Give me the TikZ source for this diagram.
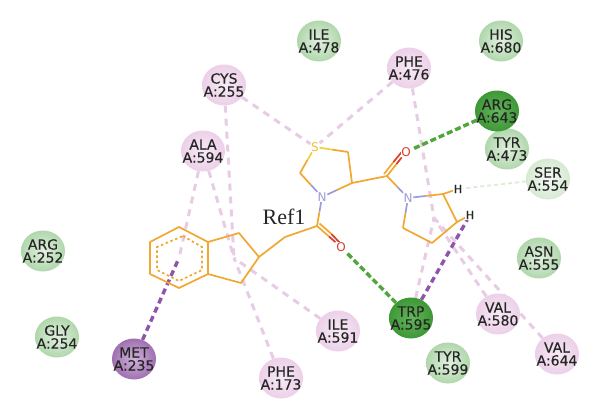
\documentclass[tikz,border=0pt]{standalone}
\usepackage{fontspec}
\setmainfont{DejaVu Sans}
\newfontfamily\lblfont[FakeBold=0.25]{DejaVu Sans}
\newfontfamily\reffont{Liberation Serif}
\usetikzlibrary{shapes.geometric,calc,backgrounds}
\definecolor{bondor}{HTML}{F0A830}
\definecolor{bondn}{HTML}{9C9CDC}
\definecolor{bondo}{HTML}{D8402C}
\definecolor{bonds}{HTML}{F0D040}
\definecolor{dashpink}{HTML}{E8CCE6}
\definecolor{dashgreen}{HTML}{4FA63A}
\definecolor{dashpurple}{HTML}{8F55AC}
\definecolor{dashpale}{HTML}{DCECD8}
\tikzset{
  res/.style={ellipse,minimum width=44pt,minimum height=41pt,inner xsep=-8pt,inner ysep=-2pt,align=center,
    text=black!85,font=\lblfont\fontsize{14}{13}\selectfont},
  pinkres/.style={res,inner color={rgb,255:red,247;green,234;blue,245},outer color={rgb,255:red,236;green,208;blue,232}},
  greenres/.style={res,inner color={rgb,255:red,226;green,240;blue,224},outer color={rgb,255:red,176;green,215;blue,172}},
  darkgreen/.style={res,inner color={rgb,255:red,100;green,180;blue,92},outer color={rgb,255:red,62;green,152;blue,54}},
  palegreen/.style={res,inner color={rgb,255:red,246;green,250;blue,245},outer color={rgb,255:red,214;green,233;blue,210}},
  purpleres/.style={res,inner color={rgb,255:red,208;green,178;blue,218},outer color={rgb,255:red,160;green,112;blue,176}},
  atom/.style={inner sep=0.6pt,fill=white,font=\fontsize{12}{12}\selectfont},
  hatom/.style={atom,text=black!85,font=\lblfont\fontsize{11}{11}\selectfont},
  pinkdash/.style={draw=dashpink,line width=3pt,dash pattern=on 7pt off 6pt},
  greendash/.style={draw=dashgreen,line width=3.4pt,dash pattern=on 6pt off 3pt},
  purpledash/.style={draw=dashpurple,line width=3.4pt,dash pattern=on 6pt off 4pt},
  paledash/.style={draw=dashpale,line width=1.8pt,dash pattern=on 4pt off 3pt},
  bond/.style={draw=bondor,line width=1.7pt,line join=round},
  aromatic/.style={draw=bondor,line width=1.7pt,dash pattern=on 2.5pt off 2.6pt},
}
\newcommand{\halfbond}[4]{%
  \draw[bond,draw=#3] (#1) -- ($(#1)!.5!(#2)$);
  \draw[bond,draw=#4] ($(#1)!.5!(#2)$) -- (#2);}
\begin{document}
\begin{tikzpicture}[x=1pt,y=-1pt]
\useasboundingbox (0,0) rectangle (600,418);
% residues
\node[greenres] (ile478) at (319,41) {ILE\\A:478};
\node[greenres] (his680) at (501,41) {HIS\\A:680};
\node[pinkres] (cys255) at (224,85) {CYS\\A:255};
\node[pinkres] (phe476) at (409,68) {PHE\\A:476};
\node[greenres] (tyr473) at (507,149) {TYR\\A:473};
\node[darkgreen] (arg643) at (497,111) {ARG\\A:643};
\node[palegreen] (ser554) at (548,179) {SER\\A:554};
\node[pinkres] (ala594) at (203,151) {ALA\\A:594};
\node[greenres] (asn555) at (539,258) {ASN\\A:555};
\node[greenres] (arg252) at (43,251) {ARG\\A:252};
\node[greenres] (gly254) at (57,337) {GLY\\A:254};
\node[purpleres] (met235) at (134,359) {MET\\A:235};
\node[pinkres] (ile591) at (338,331) {ILE\\A:591};
\node[pinkres] (phe173) at (281,378) {PHE\\A:173};
\node[darkgreen] (trp595) at (411,318) {TRP\\A:595};
\node[greenres] (tyr599) at (448,363) {TYR\\A:599};
\node[pinkres] (val580) at (498,314) {VAL\\A:580};
\node[pinkres] (val644) at (557,354) {VAL\\A:644};
% ligand atoms
\coordinate (b1) at (179,227);
\coordinate (b2) at (208,242);
\coordinate (b3) at (208,274);
\coordinate (b4) at (179,288);
\coordinate (b5) at (150,274);
\coordinate (b6) at (150,242);
\coordinate (i1) at (183,236);
\coordinate (i2) at (202,247);
\coordinate (i3) at (202,270);
\coordinate (i4) at (179,281);
\coordinate (i5) at (157,270);
\coordinate (i6) at (157,247);
\coordinate (c1) at (239,233);
\coordinate (c2) at (259,257);
\coordinate (c3) at (241,283);
\coordinate (c4) at (285,237);
\coordinate (c5) at (317,226);
\coordinate (c6) at (300,173);
\coordinate (c7) at (348,152);
\coordinate (c8) at (352,183);
\coordinate (c9) at (387,176);
\coordinate (c10) at (443,194);
\coordinate (c11) at (457,222);
\coordinate (c12) at (432,243);
\coordinate (c13) at (403,228);
\node[atom,text=bondn] (n1) at (322,197) {N};
\node[atom,text=bondn] (n2) at (408,198) {N};
\node[atom,text=bonds!80!orange] (s1) at (315,147) {S};
\node[atom,text=bondo] (o1) at (341,247) {O};
\node[atom,text=bondo] (o2) at (406,152) {O};
\node[hatom] (h1) at (458,189) {H};
\node[hatom] (h2) at (470,215) {H};
\node[font=\reffont\fontsize{22}{22}\selectfont,text=black!85] (ref) at (284,217) {Ref1};
% ring centres
\coordinate (benz) at (179,258);
\coordinate (five) at (234,258);
\coordinate (pyrr) at (434,218);
\begin{pgfonlayer}{background}
  \fill[white] (0,0) rectangle (600,418);
  % interactions
  \draw[pinkdash] (cys255) -- (s1);
  \draw[pinkdash] (phe476) -- (s1);
  \draw[pinkdash] (cys255) -- (five);
  \draw[pinkdash] (ala594) -- (five);
  \draw[pinkdash] (ala594) -- (benz);
  \draw[pinkdash] (ile591) -- (five);
  \draw[pinkdash] (phe173) -- (five);
  \draw[pinkdash] (phe476) -- (pyrr);
  \draw[pinkdash] (trp595) -- (pyrr);
  \draw[pinkdash] (val580) -- (pyrr);
  \draw[pinkdash] (val644) -- (pyrr);
  \draw[purpledash] (met235) -- (benz);
  \draw[purpledash] (trp595) -- (h2);
  \draw[greendash] (arg643) -- (o2);
  \draw[greendash] (trp595) -- (o1);
  \draw[paledash] (ser554) -- (h1);
  % ligand
  \draw[bond] (b1) -- (b2) -- (b3) -- (b4) -- (b5) -- (b6) -- cycle;
  \draw[aromatic] (i1) -- (i2) -- (i3) -- (i4) -- (i5) -- (i6) -- cycle;
  \draw[bond] (b2) -- (c1) -- (c2) -- (c3) -- (b3);
  \draw[bond] (c2) -- (c4) -- (c5);
  \halfbond{c5}{n1}{bondor}{bondn}
  \halfbond{c5}{o1}{bondor}{bondo}
  \draw[bond] ($(c5)+(2.5,-2.5)$) -- ($(c5)!.5!(o1)+(2.5,-2.5)$);
  \draw[bond,draw=bondo] ($(c5)!.5!(o1)+(2.5,-2.5)$) -- ($(o1)+(-1,-4)$);
  \halfbond{c6}{n1}{bondor}{bondn}
  \halfbond{c8}{n1}{bondor}{bondn}
  \halfbond{c6}{s1}{bondor}{bonds}
  \halfbond{c7}{s1}{bondor}{bonds}
  \draw[bond] (c7) -- (c8) -- (c9);
  \halfbond{c9}{o2}{bondor}{bondo}
  \draw[bond] ($(c9)+(-3,-2)$) -- ($(c9)!.5!(o2)+(-3,-2)$);
  \draw[bond,draw=bondo] ($(c9)!.5!(o2)+(-3,-2)$) -- ($(o2)+(-3.5,-1)$);
  \halfbond{c9}{n2}{bondor}{bondn}
  \halfbond{c10}{n2}{bondor}{bondn}
  \halfbond{c13}{n2}{bondor}{bondn}
  \draw[bond] (h1) -- (c10) -- (c11) -- (c12) -- (c13);
  \draw[bond] (c11) -- (h2);
\end{pgfonlayer}
\end{tikzpicture}
\end{document}
